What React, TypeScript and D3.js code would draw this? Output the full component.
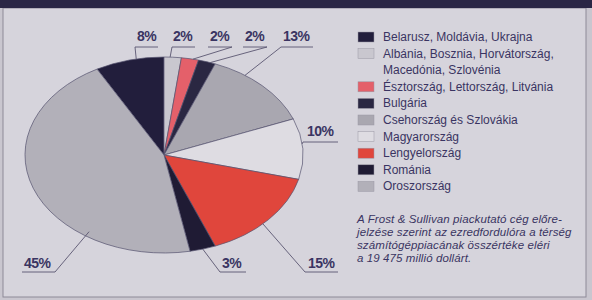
import React, { useEffect, useRef } from "react";
import * as d3 from "d3";

// legend order (pie starts with the last slice, Belarusz ends at 12 o'clock)
const countries = [
  ["Belarusz, Moldávia, Ukrajna"],
  ["Albánia, Bosznia, Horvátország,", "Macedónia, Szlovénia"],
  ["Észtország, Lettország, Litvánia"],
  ["Bulgária"],
  ["Csehország és Szlovákia"],
  ["Magyarország"],
  ["Lengyelország"],
  ["Románia"],
  ["Oroszország"],
];
const shares = [8, 2, 2, 2, 13, 10, 15, 3, 45];
const colors = [
  "#221e3c",
  "#c9c7cf",
  "#e4606a",
  "#2a2742",
  "#a9a7b0",
  "#dedce2",
  "#e0463c",
  "#1f1b34",
  "#b2b0b9",
];
const noteLines = [
  "A Frost & Sullivan piackutató cég előre-",
  "jelzése szerint az ezredfordulóra a térség",
  "számítógéppiacának összértéke eléri",
  "a 19 475 millió dollárt.",
];

// where each percent label sits: t = point along slice arc, k = radius factor
const labelLayout = [
  { t: 0.6, k: 1, x: 137, y: 41, ux1: 135, ux2: 158, uy: 47, side: "left" },
  { t: 0.35, k: 1, x: 173, y: 41, ux1: 172, ux2: 195, uy: 47, side: "left" },
  { t: 0.67, k: 1, x: 210, y: 41, ux1: 208, ux2: 232, uy: 47, side: "right" },
  { t: 0.7, k: 1, x: 245, y: 41, ux1: 243, ux2: 267, uy: 47, side: "right" },
  { t: 0.3, k: 1, x: 283, y: 41, ux1: 281, ux2: 313, uy: 47, side: "left" },
  { t: 0.42, k: 1, x: 307, y: 136, ux1: 303, ux2: 338, uy: 142, side: "left" },
  { t: 0.56, k: 1, x: 308, y: 268, ux1: 305, ux2: 338, uy: 272, side: "left" },
  { t: 0.5, k: 1, x: 222, y: 268, ux1: 220, ux2: 246, uy: 272, side: "left" },
  { t: 0.28, k: 0.95, x: 24, y: 268, ux1: 22, ux2: 55, uy: 272, side: "right" },
];

const W = 592;
const H = 300;
const ink = "#3a3462";

function App() {
  const ref = useRef(null);

  useEffect(() => {
    const svg = d3.select(ref.current);
    svg.selectAll("*").remove();

    // panel
    svg.append("rect").attr("width", W).attr("height", H).attr("fill", "#c9c6cf");
    svg
      .append("rect")
      .attr("x", 3)
      .attr("y", 8)
      .attr("width", 583)
      .attr("height", 289)
      .attr("fill", "#d6d4dc")
      .attr("stroke", "#8e8a98")
      .attr("stroke-width", 1);
    svg.append("rect").attr("width", W).attr("height", 8).attr("fill", "#2a2645");

    const cx = 164;
    const cy = 155;
    const rx = 139;
    const ry = 98;

    const start = -(shares[0] / 100) * 2 * Math.PI;
    const pie = d3
      .pie()
      .sort(null)
      .value((d) => d)
      .startAngle(start)
      .endAngle(start + 2 * Math.PI);
    const arcs = pie(shares);
    const arc = d3.arc().innerRadius(0).outerRadius(rx);

    const g = svg
      .append("g")
      .attr("transform", `translate(${cx},${cy}) scale(1,${ry / rx})`);
    g.selectAll("path")
      .data(arcs)
      .join("path")
      .attr("d", arc)
      .attr("fill", (d, i) => colors[i])
      .attr("stroke", "#55516f")
      .attr("stroke-width", 0.7)
      .attr("vector-effect", "non-scaling-stroke");

    // labels with leader lines
    const lab = svg.append("g");
    arcs.forEach((a, i) => {
      const L = labelLayout[i];
      const ang = a.startAngle + L.t * (a.endAngle - a.startAngle);
      const px = cx + L.k * rx * Math.sin(ang);
      const py = cy - L.k * ry * Math.cos(ang);
      const ex = L.side === "left" ? L.ux1 : L.ux2;
      lab
        .append("path")
        .attr("d", `M${px},${py}L${ex},${L.uy}L${L.side === "left" ? L.ux2 : L.ux1},${L.uy}`)
        .attr("fill", "none")
        .attr("stroke", "#5a5670")
        .attr("stroke-width", 0.9);
      lab
        .append("text")
        .attr("x", L.x)
        .attr("y", L.y)
        .attr("font-family", "Liberation Sans, Arial, sans-serif")
        .attr("font-weight", "bold")
        .attr("font-size", 14)
        .attr("letter-spacing", -0.5)
        .attr("fill", ink)
        .text(shares[i] + "%");
    });

    // legend
    const leg = svg.append("g");
    let row = 0;
    countries.forEach((lines, i) => {
      const y = 37 + row * 16.6;
      leg
        .append("rect")
        .attr("x", 358)
        .attr("y", y - 5)
        .attr("width", 16)
        .attr("height", 10)
        .attr("fill", colors[i])
        .attr("stroke", "#9a97a4")
        .attr("stroke-width", 0.5);
      lines.forEach((ln, j) => {
        leg
          .append("text")
          .attr("x", 383)
          .attr("y", y + 4 + j * 16.6)
          .attr("font-family", "Liberation Sans, Arial, sans-serif")
          .attr("font-size", 12)
          .attr("fill", ink)
          .text(ln);
      });
      row += lines.length;
    });

    // note
    noteLines.forEach((ln, i) => {
      svg
        .append("text")
        .attr("x", 357)
        .attr("y", 223 + i * 13)
        .attr("font-family", "Liberation Sans, Arial, sans-serif")
        .attr("font-style", "italic")
        .attr("font-size", 11.5)
        .attr("letter-spacing", 0.1)
        .attr("fill", ink)
        .text(ln);
    });
  }, []);

  return (
    <svg
      ref={ref}
      width={W}
      height={H}
      style={{ position: "absolute", left: 0, top: 0, display: "block" }}
    ></svg>
  );
}

export default App;
